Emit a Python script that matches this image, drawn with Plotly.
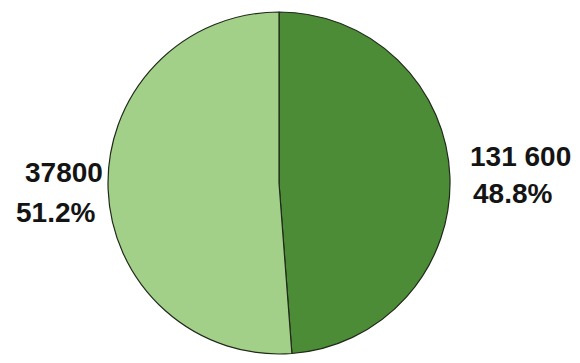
import plotly.graph_objects as go

# slice data, dark slice first (starts at 12 o'clock, clockwise)
labels = ["A", "B"]
shares = [48.8, 51.2]
amounts = ["131 600", "37800"]
colors = ["#4d8c36", "#a3d089"]


def main():
    fig = go.Figure(go.Pie(
        labels=labels,
        values=shares,
        sort=False,
        direction="clockwise",
        rotation=0,
        textinfo="none",
        hoverinfo="label+percent",
        marker=dict(colors=colors, line=dict(color="#1f2a1a", width=1.2)),
        domain=dict(x=[0.1862, 0.7759], y=[0.0248, 0.967]),
        showlegend=False,
    ))

    # label positions in pixels (x centre, y centre) for amount and share lines
    spots = [((520, 156), (512, 194)), ((64, 172), (55, 212))]
    font = dict(family="Liberation Sans, Arial, sans-serif", size=28, color="#141414")
    for amount, share, (p1, p2) in zip(amounts, shares, spots):
        for text, (px, py) in [(f"<b>{amount}</b>", p1), (f"<b>{share:.1f}%</b>", p2)]:
            fig.add_annotation(
                x=px / 580, y=1 - py / 363, xref="paper", yref="paper",
                text=text, showarrow=False, xanchor="center", yanchor="middle",
                font=font,
            )

    fig.update_layout(
        width=580, height=363,
        margin=dict(l=0, r=0, t=0, b=0),
        paper_bgcolor="white",
        plot_bgcolor="white",
    )
    # drop the default page margin so the figure sits at the window corner
    fig.write_html("out.html", config={"displayModeBar": False},
                   post_script="document.body.style.margin='0';")


if __name__ == "__main__":
    main()
